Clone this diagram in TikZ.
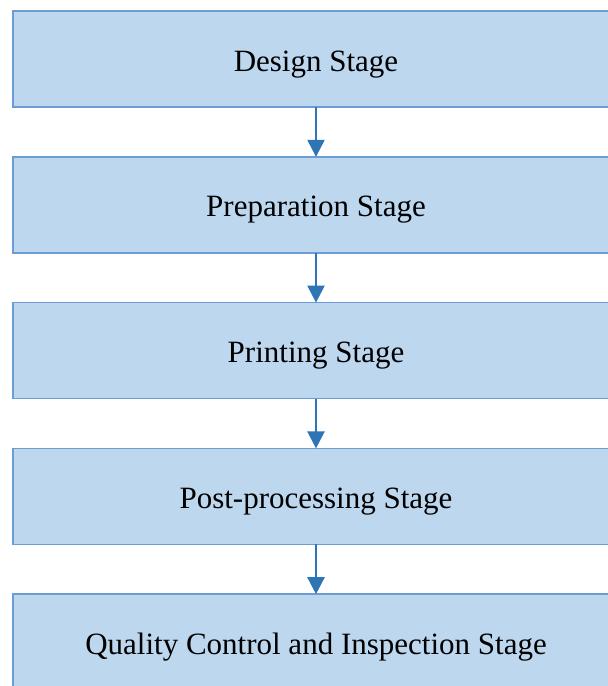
\documentclass[tikz,border=0pt]{standalone}
\usepackage{fontspec}
\setmainfont{Liberation Serif}
\usepackage{tikz}
\usetikzlibrary{arrows.meta,positioning}
\definecolor{stagefill}{HTML}{BDD7EE}
\definecolor{stageline}{RGB}{109,157,210}
\definecolor{flowarrow}{RGB}{46,117,182}

\begin{document}
\begin{tikzpicture}[
    node distance=24.9pt,
    stagebox/.style={draw=stageline, line width=0.75pt, fill=stagefill,
      minimum width=303pt, minimum height=48pt, inner sep=0pt, outer sep=0pt,
      text height=14pt, text depth=2pt,
      font=\fontsize{15.5pt}{18pt}\selectfont},
    flow/.style={draw=flowarrow, line width=1.2pt,
      -{Triangle[width=8.5pt,length=8.5pt]}}]
  \useasboundingbox (0,0) rectangle (304pt,-343pt);
  % Stages
  \node[stagebox] (design) at (158pt,-29.5pt) {Design Stage};
  \node[stagebox, below=of design] (prep) {Preparation Stage};
  \node[stagebox, below=of prep] (print) {Printing Stage};
  \node[stagebox, below=of print] (post) {Post-processing Stage};
  \node[stagebox, below=of post] (qc) {Quality Control and Inspection Stage};
  % Arrows
  \draw[flow] (design) -- (prep);
  \draw[flow] (prep) -- (print);
  \draw[flow] (print) -- (post);
  \draw[flow] (post) -- (qc);
\end{tikzpicture}
\end{document}
